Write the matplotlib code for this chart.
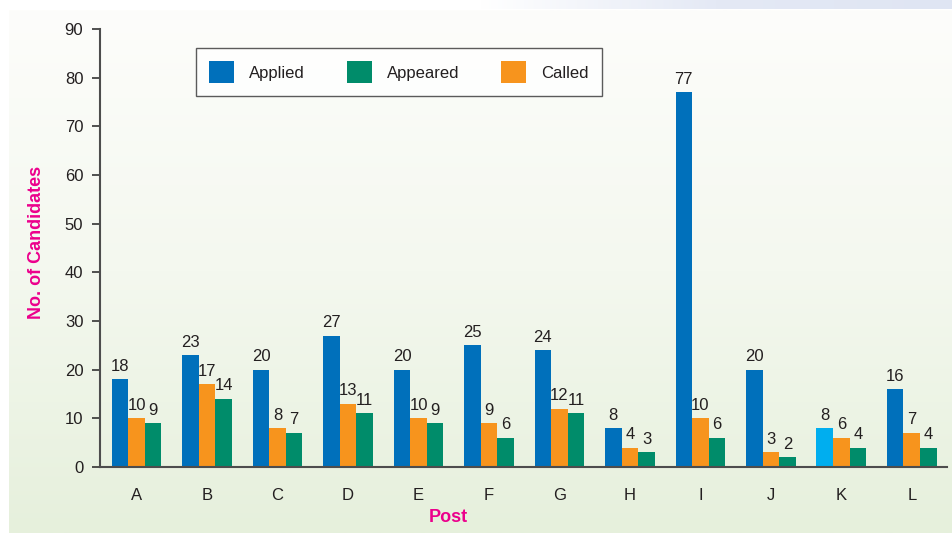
import numpy as np
import matplotlib.pyplot as plt
from matplotlib.colors import LinearSegmentedColormap
from matplotlib.patches import Patch

plt.rcParams['font.family'] = ['Liberation Sans', 'DejaVu Sans']

posts = ['A', 'B', 'C', 'D', 'E', 'F', 'G', 'H', 'I', 'J', 'K', 'L']
applied = [18, 23, 20, 27, 20, 25, 24, 8, 77, 20, 8, 16]
called = [10, 17, 8, 13, 10, 9, 12, 4, 10, 3, 6, 7]
appeared = [9, 14, 7, 11, 9, 6, 11, 3, 6, 2, 4, 4]

blue = '#0070bb'
light_blue = '#00aeef'
orange = '#f7941d'
green = '#008c6a'
magenta = '#ec008c'
txt = '#231f20'

fig = plt.figure(figsize=(9.52, 5.33), dpi=100)
fig.patch.set_facecolor('white')

# background panel with soft gradient
bg = fig.add_axes([9 / 952, 0, 1 - 9 / 952, 1 - 10 / 533], zorder=-10)
grad = np.linspace(0, 1, 256).reshape(-1, 1)
cm = LinearSegmentedColormap.from_list('bg', ['#fdfdfb', '#f4f8ef', '#e6f0dc'])
bg.imshow(grad, aspect='auto', cmap=cm, extent=[0, 1, 0, 1], origin='upper')
bg.axis('off')

# top-right bluish band
band = fig.add_axes([480 / 952, 1 - 9 / 533, 1 - 480 / 952, 9 / 533], zorder=-10)
hgrad = np.linspace(0, 1, 256).reshape(1, -1)
cm2 = LinearSegmentedColormap.from_list('band', ['#ffffff', '#e4e9f5', '#dfe5f3'])
band.imshow(hgrad, aspect='auto', cmap=cm2, extent=[0, 1, 0, 1])
band.axis('off')

ax = fig.add_axes([100 / 952, 1 - 467 / 533, 847 / 952, (467 - 29) / 533])
ax.set_facecolor('none')

x = np.arange(len(posts))
w = 0.235
applied_colors = [light_blue if p == 'K' else blue for p in posts]
b1 = ax.bar(x - w, applied, w, color=applied_colors)
b2 = ax.bar(x, called, w, color=orange)
b3 = ax.bar(x + w, appeared, w, color=green)

for bars, vals in [(b1, applied), (b2, called), (b3, appeared)]:
    for bar, v in zip(bars, vals):
        ax.annotate(str(v), (bar.get_x() + bar.get_width() / 2, v),
                    xytext=(0, 4), textcoords='offset points',
                    ha='center', va='bottom', fontsize=12, color=txt)

ax.set_xlim(-0.52, 11.5)
ax.set_ylim(0, 90)
ax.set_yticks(range(0, 91, 10))
ax.set_xticks(x)
ax.set_xticklabels(posts)
ax.tick_params(axis='x', length=0, pad=15, labelsize=12, labelcolor=txt)
ax.tick_params(axis='y', length=6, width=1.2, color='#333333', labelsize=12,
               labelcolor=txt, pad=6)
for s in ['top', 'right']:
    ax.spines[s].set_visible(False)
for s in ['left', 'bottom']:
    ax.spines[s].set_color('#4d4d4d')
    ax.spines[s].set_linewidth(1.5)

fig.text(37 / 952, 1 - 242 / 533, 'No. of Candidates', rotation=90,
         ha='center', va='center', fontsize=13, fontweight='bold', color=magenta)
fig.text(448 / 952, 1 - 518 / 533, 'Post', ha='center', va='center',
         fontsize=13, fontweight='bold', color=magenta)

handles = [Patch(facecolor=blue), Patch(facecolor=green), Patch(facecolor=orange)]
leg = ax.legend(handles, ['Applied', 'Appeared', 'Called'], ncol=3,
                loc='upper left', bbox_to_anchor=(96 / 847, 1 - 19 / 438),
                frameon=True, fancybox=False, fontsize=12,
                handlelength=1.5, handleheight=1.6, handletextpad=0.9,
                columnspacing=2.5, borderpad=0.8, borderaxespad=0)
leg.get_frame().set_edgecolor('#333333')
leg.get_frame().set_linewidth(1.0)
leg.get_frame().set_facecolor('white')
for t in leg.get_texts():
    t.set_color(txt)

fig.savefig('out.png', dpi=100)
